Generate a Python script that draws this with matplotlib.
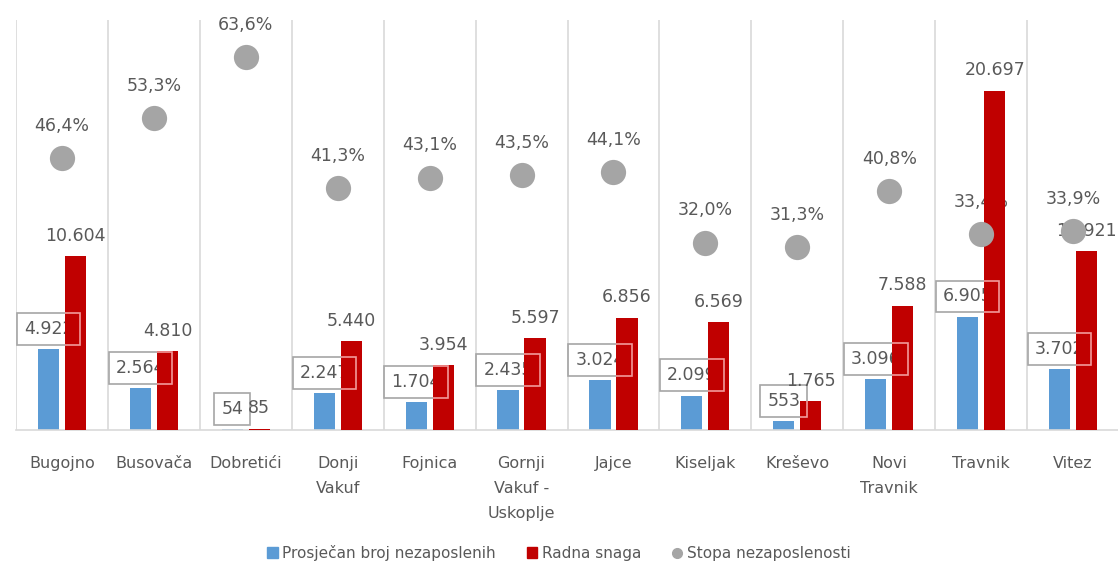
import numpy as np
import matplotlib.pyplot as plt
from matplotlib.lines import Line2D
from matplotlib.patches import Patch

municipalities = ["Bugojno", "Busovača", "Dobretići", "Donji\nVakuf", "Fojnica",
                  "Gornji\nVakuf -\nUskoplje", "Jajce", "Kiseljak", "Kreševo",
                  "Novi\nTravnik", "Travnik", "Vitez"]
unemployed = [4922, 2564, 54, 2247, 1704, 2435, 3024, 2099, 553, 3096, 6905, 3702]
labour_force = [10604, 4810, 85, 5440, 3954, 5597, 6856, 6569, 1765, 7588, 20697, 10921]
rate = [46.4, 53.3, 63.6, 41.3, 43.1, 43.5, 44.1, 32.0, 31.3, 40.8, 33.4, 33.9]

blue = '#5b9bd5'
red = '#c00000'
grey = '#a5a5a5'
txt = '#595959'

def thousands(v):
    return f"{v:,}".replace(",", ".")

fig = plt.figure(figsize=(11.18, 5.69), dpi=100)
ax = fig.add_axes([16/1118, 139/569, 1103/1118, 410/569])
ax2 = ax.twinx()

x = np.arange(len(municipalities))
off = 0.147
w = 0.23

ax.bar(x - off, unemployed, width=w, color=blue, zorder=2)
red_bars = ax.bar(x + off, labour_force, width=w, color=red, zorder=3)

ax.set_xlim(-0.5, 11.5)
ax.set_ylim(0, 25000)
ax2.set_ylim(0, 70)

# boxed labels for unemployed (partly hidden behind red bars)
for i, v in enumerate(unemployed):
    ax.annotate(thousands(v), (x[i] - off, v), xytext=(0, 11), textcoords='offset points',
                ha='center', va='baseline', fontsize=12.5, color=txt, zorder=1,
                bbox=dict(boxstyle='square,pad=0.4', fc='none', ec='#a6a6a6', lw=1.2))
    t = ax.annotate(thousands(v), (x[i] - off, v), xytext=(0, 11), textcoords='offset points',
                    ha='center', va='baseline', fontsize=12.5, color='none', zorder=4,
                    bbox=dict(boxstyle='square,pad=0.4', fc='none', ec='#f29a9a', lw=1.2))
    t.set_clip_path(red_bars[i])

# labels for labour force
for i, v in enumerate(labour_force):
    ax.annotate(thousands(v), (x[i] + off, v), xytext=(0, 11), textcoords='offset points',
                ha='center', va='baseline', fontsize=12.5, color=txt, zorder=5)

# rate labels sit below the red bars
for i, r in enumerate(rate):
    ax.annotate(f"{r:.1f}%".replace(".", ","), (x[i], r), xycoords=ax2.transData,
                xytext=(0, 19.5), textcoords='offset points',
                ha='center', va='baseline', fontsize=12.5, color=txt, zorder=1)

ax2.scatter(x, rate, s=330, color=grey, zorder=5, linewidths=0)

ax.set_xticks(x)
ax.set_xticklabels(municipalities, fontsize=11.5, color=txt, linespacing=1.8)
ax.set_xticks(np.arange(-0.5, 12, 1), minor=True)
ax.tick_params(axis='x', which='both', length=0, pad=19)
ax.grid(which='minor', axis='x', color='#d9d9d9', lw=1.2)
ax.set_axisbelow(True)
ax.set_yticks([])
ax2.set_yticks([])
for s in ['top', 'left', 'right']:
    ax.spines[s].set_visible(False)
ax.spines['bottom'].set_color('#d9d9d9')
ax.spines['bottom'].set_linewidth(1.2)
for s in ax2.spines.values():
    s.set_visible(False)

handles = [Patch(color=blue, label='Prosječan broj nezaposlenih'),
           Patch(color=red, label='Radna snaga'),
           Line2D([], [], marker='o', ls='none', color=grey, markersize=7,
                  label='Stopa nezaposlenosti')]
fig.legend(handles=handles, loc='center', bbox_to_anchor=(0.5, 0.028), ncol=3,
           frameon=False, fontsize=11, labelcolor=txt, handlelength=0.7,
           handleheight=0.7, handletextpad=0.3, columnspacing=2.0)

fig.savefig('out.png', dpi=100)
